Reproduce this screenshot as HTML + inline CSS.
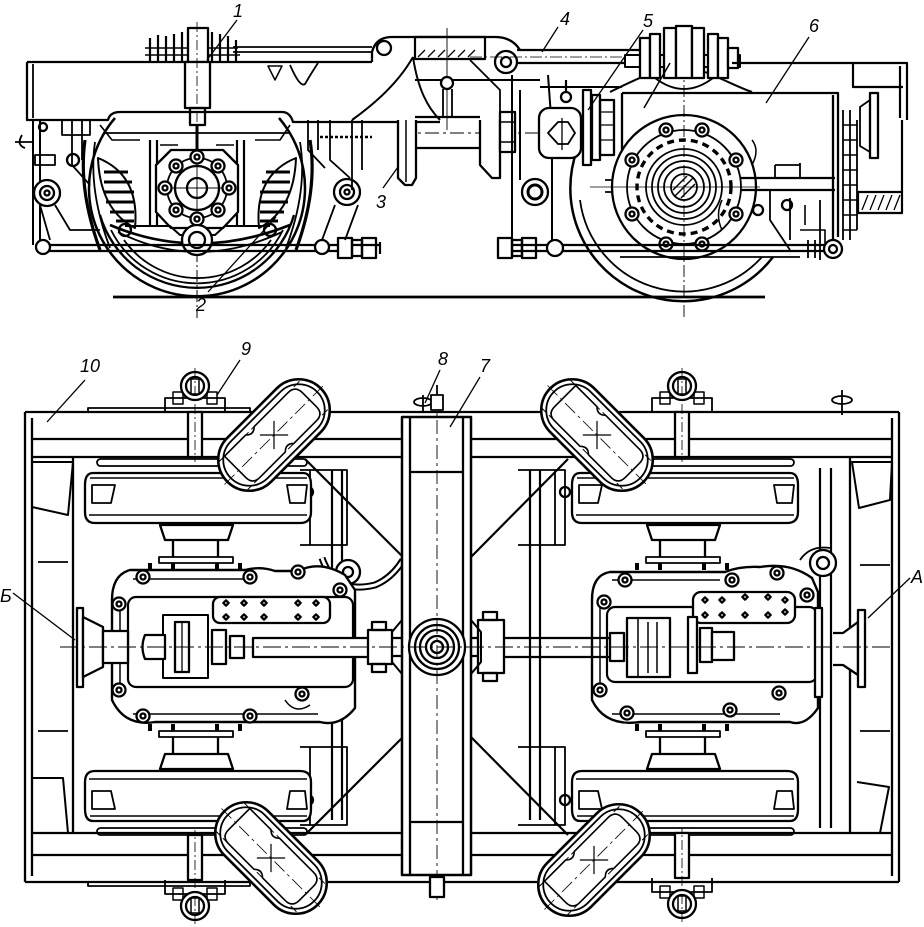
<!DOCTYPE html>
<html><head><meta charset="utf-8"><style>
html,body{margin:0;padding:0;background:#fff;width:924px;height:927px;overflow:hidden}
svg{display:block}
text{font-family:"Liberation Sans",sans-serif;font-style:italic;font-size:18px;fill:#000;stroke:none}
</style></head><body>
<svg width="924" height="927" viewBox="0 0 924 927" xmlns="http://www.w3.org/2000/svg">
<defs>
<g id="bolt"><circle r="6.5" fill="#fff"/><circle r="2.5"/></g>
<g id="dotx"><path d="M-4 0H4M0-4V4" stroke-width="1.2"/><circle r="2" fill="#fff"/></g>
<g id="oval">
<rect x="-66" y="-31" width="132" height="62" rx="31" fill="#fff" stroke-width="2.6"/>
<rect x="-61" y="-26" width="122" height="52" rx="26" stroke-width="1.8"/>
<path d="M-50 -20 H-20 Q-14 -14 -8 -20 H40 Q50 -20 50 -10 V10 Q50 20 40 20 H8 Q2 14 -4 20 H-40 Q-50 20 -50 10 Z" stroke-width="1.6"/>
<path d="M-60 -20 H60 M-60 20 H60" stroke-width="1" stroke-dasharray="8 4"/>
<path d="M-10 -10 L10 10 M-10 10 L10 -10" stroke-width="1.2"/>
<path d="M-70 0 H70" stroke-width="0.8" stroke-dasharray="14 4 3 4"/>
</g>
<g id="wheelP">
<rect x="-98" y="459" width="210" height="7" rx="3.5" stroke-width="1.8"/>
<path d="M-102 473 H108 Q116 473 116 485 V512 Q116 523 105 523 H-100 Q-110 523 -110 512 V485 Q-110 473 -102 473 Z" fill="#fff"/>
<path d="M-105 478 H112 M-106 515 H112" stroke-width="1.5"/>
<path d="M-103 485 H-80 L-84 503 H-103 Z M92 485 H112 L110 503 H95 Z" stroke-width="1.8"/>
<path d="M-35 525 H38 L33 540 H-30 Z" fill="#fff"/>
<path d="M-22 540 V557 M23 540 V557"/>
<path d="M-36 557 H38 V563 H-36 Z" stroke-width="1.8"/>
<path d="M-45 563 V570 M-22 563 V570 M22 563 V570 M45 563 V570" stroke-width="4"/>
</g>
<g id="pinTop">
<path d="M-30 412 V398 H30 V412" stroke-width="1.8"/>
<rect x="-22" y="392" width="10" height="12" stroke-width="1.5"/>
<rect x="12" y="392" width="10" height="12" stroke-width="1.5"/>
<circle cy="386" r="14" fill="#fff"/>
<circle cy="386" r="9"/>
<rect x="-4" y="379" width="8" height="15" stroke-width="1.5"/>
<rect x="-7" y="412" width="14" height="45" fill="#fff"/>
<path d="M0 368 V462" stroke-width="0.8" stroke-dasharray="10 3 2 3"/>
</g>
</defs>

<g fill="none" stroke="#000" stroke-width="2.3" stroke-linejoin="round" stroke-linecap="butt">

<!-- ================= SIDE VIEW ================= -->
<line x1="113" y1="297" x2="765" y2="297" stroke-width="2.8"/>

<!-- left wheel -->
<path d="M115 118 A108 108 0 1 0 279 118" stroke-width="2.5"/>
<path d="M100 215 A101 101 0 0 0 294 215"/>
<path d="M111 230 A96 96 0 0 0 283 230" stroke-width="1.8"/>
<path d="M124 240 A90 90 0 0 0 271 240" stroke-width="1.8"/>
<line x1="197" y1="150" x2="197" y2="318" stroke-width="1" stroke-dasharray="12 3 2 3"/>

<!-- right wheel -->
<path d="M577 150 A113 113 0 0 0 773 257" stroke-width="2.5"/>
<path d="M580 200 A105 105 0 0 0 762 257" stroke-width="1.8"/>

<!-- left frame -->
<path d="M27 62 H372 L440 120 H293 Q290 112 282 112 H120 Q110 112 108 120 H27 Z" fill="#fff" stroke="none"/>
<path d="M27 62 H372"/>
<path d="M27 62 V120 H108 Q110 112 120 112 H282 Q290 112 293 122 H440"/>
<path d="M33 64 V118" stroke-width="1.8"/>
<path d="M103 133 H290" stroke-width="1.8"/>
<path d="M233 47 H372 M233 52 H372" stroke-width="1.8"/>
<path d="M290 65 Q300 88 305 84 Q312 72 318 63" stroke-width="1.8"/>
<path d="M268 66 H282 L275 80 Z" stroke-width="1.5"/>
<!-- left suspension 1 -->
<path d="M150 62 V38 M158 62 V35 M166 62 V36 M174 62 V34 M182 62 V32 M212 62 V32 M220 62 V34 M228 62 V36 M236 62 V40" stroke-width="2.2"/>
<path d="M145 55 H240 M145 48 H238" stroke-width="1.5"/>
<rect x="188" y="28" width="20" height="34" fill="#fff"/>
<rect x="185" y="62" width="25" height="46" fill="#fff"/>
<rect x="190" y="108" width="15" height="17"/>
<path d="M197 125 V150" stroke-width="3"/>
<path d="M197 22 V135" stroke-width="0.8" stroke-dasharray="10 3 2 3"/>

<!-- left bogie pedestals & springs -->
<path d="M85 140 Q78 190 100 250" stroke-width="3.2"/>
<path d="M95 142 Q88 190 110 248" stroke-width="1.8"/>
<path d="M310 140 Q318 190 296 250" stroke-width="3.2"/>
<path d="M300 142 Q308 190 286 248" stroke-width="1.8"/>
<path d="M98 158 Q140 175 135 228 Q100 210 98 158 Z" fill="#fff" stroke-width="2"/>
<path d="M104 172 H128 M104 182 H132 M104 192 H134 M106 202 H134 M110 212 H134 M116 221 H134" stroke-width="3"/>
<path d="M296 158 Q254 175 259 228 Q294 210 296 158 Z" fill="#fff" stroke-width="2"/>
<path d="M266 172 H290 M262 182 H290 M260 192 H290 M260 202 H288 M260 212 H284 M260 221 H278" stroke-width="3"/>
<path d="M150 140 V225 M157 140 V225 M237 140 V225 M244 140 V225" stroke-width="2.2"/>
<path d="M160 145 H178 M216 145 H234" stroke-width="1.5"/>
<path d="M100 125 L112 140 H140 M290 125 L280 140 H255" stroke-width="1.6"/>
<!-- axle box -->
<path d="M171 150 H223 L238 165 V212 L223 228 H171 L156 212 V165 Z" fill="#fff"/>
<circle cx="197" cy="188" r="30" stroke-width="1.8"/>
<circle cx="197" cy="188" r="22"/>
<circle cx="197" cy="188" r="10"/>
<path d="M165 188 H229 M197 156 V220" stroke-width="0.9"/>
<use href="#bolt" x="176" y="166"/><use href="#bolt" x="218" y="166"/>
<use href="#bolt" x="176" y="210"/><use href="#bolt" x="218" y="210"/>
<use href="#bolt" x="165" y="188"/><use href="#bolt" x="229" y="188"/>
<use href="#bolt" x="197" y="157"/><use href="#bolt" x="197" y="219"/>
<!-- lower cradle -->
<path d="M110 225 Q197 262 290 225" stroke-width="2.6"/>
<path d="M118 232 Q197 272 282 232" stroke-width="1.8"/>
<path d="M125 226 H170 L180 235 H215 L225 226 H270" stroke-width="2"/>
<circle cx="197" cy="240" r="15" fill="#fff"/>
<circle cx="197" cy="240" r="8"/>
<circle cx="125" cy="230" r="6"/><circle cx="270" cy="230" r="6"/>

<!-- left end gear -->
<path d="M33 120 V245 M40 120 V245" stroke-width="2"/>
<path d="M22 135 Q16 145 25 148 M15 142 H33" stroke-width="1.8"/>
<path d="M62 120 V135 H90 V120" stroke-width="1.8"/>
<circle cx="43" cy="127" r="4"/>
<path d="M72 120 V165 L90 185 M82 120 V160" stroke-width="1.8"/>
<rect x="35" y="155" width="20" height="10" stroke-width="1.8"/>
<circle cx="73" cy="160" r="6"/>
<circle cx="47" cy="193" r="13" fill="#fff"/><circle cx="47" cy="193" r="7"/><circle cx="47" cy="193" r="2.5"/>
<path d="M55 205 L70 230 H100 M40 205 L50 240" stroke-width="1.8"/>
<path d="M37 245 H380 M37 251 H340" stroke-width="2.2"/>
<circle cx="43" cy="247" r="7" fill="#fff"/>
<circle cx="322" cy="247" r="7" fill="#fff"/>
<rect x="338" y="238" width="14" height="20" fill="#fff"/>
<rect x="352" y="240" width="10" height="16"/>
<rect x="362" y="238" width="14" height="20"/>
<path d="M380 242 V254" stroke-width="2.2"/>
<!-- right part of left bogie frame -->
<path d="M308 120 V150 L325 168 M318 120 V150" stroke-width="1.8"/>
<path d="M330 120 V160 L350 178" stroke-width="1.8"/>
<circle cx="347" cy="192" r="13" fill="#fff"/><circle cx="347" cy="192" r="7"/><circle cx="347" cy="192" r="2.5"/>
<path d="M335 205 L322 240 M358 205 L345 240" stroke-width="1.8"/>
<path d="M320 137 H372" stroke-width="2.5" stroke-dasharray="3 2"/>
<path d="M352 120 V190 M362 120 V170" stroke-width="1.8"/>

<!-- bolster (side) -->
<path d="M352 120 C380 100 400 80 413 57" stroke-width="2"/>
<path d="M413 57 C418 90 428 108 440 120" stroke-width="2"/>
<path d="M372 62 V52 Q376 37 392 37 H495 Q512 37 520 50"/>
<rect x="415" y="37" width="70" height="22" stroke-width="2.2"/>
<path d="M418 57 L425 50 M428 57 L435 50 M438 57 L445 50 M448 57 L455 50 M458 57 L465 50 M468 57 L475 50" stroke-width="1.3"/>
<path d="M447 28 V130" stroke-width="0.9"/>
<path d="M415 80 H540" stroke-width="2"/>
<circle cx="447" cy="83" r="6" fill="#fff"/>
<path d="M443 89 V118 M452 89 V118" stroke-width="1.8"/>
<path d="M470 60 L500 90 V118" stroke-width="1.8"/>
<circle cx="384" cy="48" r="7"/>
<!-- link 4 -->
<circle cx="506" cy="62" r="11" fill="#fff"/>
<circle cx="506" cy="62" r="5"/>
<path d="M517 50 H640 M517 63 H640" stroke-width="2.2"/>
<path d="M470 57 H650" stroke-width="0.8" stroke-dasharray="12 3 2 3"/>
<!-- cardan shaft & brake disc 3 -->
<path d="M415 117 H480 M415 148 H480"/>
<line x1="400" y1="133" x2="560" y2="133" stroke-width="0.9" stroke-dasharray="14 4 3 4"/>
<path d="M398 120 V178 L405 185 H412 L416 178 V120" fill="#fff"/>
<path d="M406 120 V182" stroke-width="1.5"/>
<path d="M480 120 V165 L492 178 H500 V120" fill="#fff"/>
<rect x="500" y="112" width="15" height="40" fill="#fff"/>
<path d="M500 122 H515 M500 142 H515" stroke-width="1.5"/>

<!-- right bogie lever -->
<path d="M512 75 V250 M520 90 V180 M548 75 L552 130 V250" stroke-width="2"/>
<circle cx="535" cy="192" r="13" fill="#fff"/><circle cx="535" cy="192" r="7" stroke-width="3"/>
<path d="M540 87 H622" stroke-width="2"/>
<!-- coupling 5 -->
<rect x="539" y="108" width="42" height="50" rx="10" fill="#fff"/>
<path d="M548 133 L558 122 H568 L575 133 L568 144 H558 Z" stroke-width="1.8"/>
<path d="M562 118 V150" stroke-width="1.3"/>
<rect x="583" y="90" width="8" height="75" fill="#fff"/>
<rect x="592" y="95" width="8" height="65"/>
<rect x="600" y="100" width="14" height="55"/>
<path d="M600 112 H614 M600 125 H614 M600 140 H614" stroke-width="1.3"/>
<circle cx="566" cy="97" r="5"/>
<path d="M566 92 V80" stroke-width="2.2"/>

<!-- motor 6 -->
<path d="M610 92 C630 82 645 75 660 70 M705 72 C725 80 740 88 752 92" stroke-width="2"/>
<rect x="622" y="93" width="214" height="164" fill="#fff" stroke="none"/>
<path d="M622 93 H838 V237 M833 95 V240 M622 93 V160"/>
<path d="M605 180 H625 V192 H605" stroke-width="1.8"/>
<circle cx="684" cy="187" r="72" fill="#fff"/>
<circle cx="684" cy="187" r="57" stroke-width="1.8"/>
<circle cx="684" cy="187" r="47" stroke-width="3.4" stroke-dasharray="7 5"/>
<circle cx="684" cy="187" r="38" stroke-width="1.8"/>
<circle cx="684" cy="187" r="32" stroke-width="1.8"/>
<circle cx="684" cy="187" r="26" stroke-width="1.8"/>
<circle cx="684" cy="187" r="20" stroke-width="1.8"/>
<circle cx="684" cy="187" r="13" stroke-width="1.8"/>
<path d="M675 196 L693 178 M673 190 L687 176 M681 198 L695 184" stroke-width="1.5"/>
<use href="#bolt" x="666" y="130"/><use href="#bolt" x="702" y="130"/>
<use href="#bolt" x="632" y="160"/><use href="#bolt" x="736" y="160"/>
<use href="#bolt" x="632" y="214"/><use href="#bolt" x="736" y="214"/>
<use href="#bolt" x="666" y="244"/><use href="#bolt" x="702" y="244"/>
<path d="M684 25 V318" stroke-width="0.9" stroke-dasharray="12 3 2 3"/>
<path d="M590 187 H760" stroke-width="0.8"/>
<path d="M741 178 H835 M741 190 H835" stroke-width="2.2"/>
<path d="M775 165 V178 M800 163 V178 M775 165 H800" stroke-width="1.8"/>
<circle cx="787" cy="205" r="5"/>
<path d="M770 190 V220 Q780 235 790 250 M790 198 V240 M820 200 V260" stroke-width="1.8"/>
<path d="M800 230 H825 V245 M805 205 V225" stroke-width="1.6"/>
<circle cx="758" cy="210" r="5"/>
<path d="M752 140 Q760 150 752 165 M722 200 Q715 215 722 230" stroke-width="1.5"/>
<!-- right suspension spring stack -->
<path d="M625 55 H740 V67 H625 Z" fill="#fff" stroke-width="2"/>
<rect x="640" y="38" width="10" height="40" fill="#fff"/>
<rect x="650" y="34" width="10" height="44" fill="#fff"/>
<rect x="664" y="28" width="12" height="50" fill="#fff"/>
<rect x="676" y="26" width="16" height="52" fill="#fff"/>
<rect x="692" y="28" width="12" height="50" fill="#fff"/>
<rect x="708" y="34" width="10" height="44" fill="#fff"/>
<rect x="718" y="38" width="10" height="40" fill="#fff"/>
<rect x="728" y="48" width="10" height="20" fill="#fff"/>
<path d="M655 78 Q684 100 713 78" stroke-width="1.8"/>
<path d="M670 63 L644 108" stroke-width="1.5"/>
<!-- right end -->
<path d="M732 63 H907 V120 M900 66 V118 M853 63 V87 H903" stroke-width="2.2"/>
<path d="M902 120 V213 H858 V192 H902" stroke-width="2.2"/>
<path d="M862 210 L868 195 M870 210 L876 195 M878 210 L884 195 M886 210 L892 195 M894 210 L900 195" stroke-width="1.3"/>
<rect x="870" y="93" width="8" height="65" fill="#fff"/>
<path d="M860 107 L870 100 V152 L860 146 Z" stroke-width="1.8"/>
<path d="M843 110 V240 M850 110 V240 M857 120 V230" stroke-width="1.8"/>
<path d="M843 125 H857 M843 140 H857 M843 155 H857 M843 170 H857 M843 185 H857 M843 200 H857 M843 215 H857 M843 230 H857" stroke-width="1.5"/>
<!-- right brake rod -->
<path d="M499 245 H840 M499 251 H840" stroke-width="2.2"/>
<rect x="498" y="238" width="14" height="20" fill="#fff"/>
<rect x="512" y="240" width="10" height="16"/>
<rect x="522" y="238" width="14" height="20"/>
<circle cx="555" cy="248" r="8" fill="#fff"/>
<circle cx="833" cy="249" r="9" fill="#fff"/><circle cx="833" cy="249" r="4"/>
<path d="M808 240 V258 M815 240 V258" stroke-width="1.8"/>
<path d="M620 257 H800" stroke-width="1.8"/>

<!-- side-view labels -->
<text x="233" y="17">1</text>
<path d="M237 20 L207 60" stroke-width="1.3"/>
<text x="196" y="311">2</text>
<path d="M208 292 L276 217" stroke-width="1.3"/>
<text x="376" y="208">3</text>
<path d="M383 188 L398 167" stroke-width="1.3"/>
<text x="560" y="25">4</text>
<path d="M558 27 L542 52" stroke-width="1.3"/>
<text x="643" y="27">5</text>
<path d="M643 30 L588 110" stroke-width="1.3"/>
<text x="809" y="32">6</text>
<path d="M809 37 L766 103" stroke-width="1.3"/>

<!-- ================= PLAN VIEW ================= -->
<path d="M25 412 H899 M32 439 H892 M32 457 H892 M25 882 H899 M32 855 H892 M32 833 H892"/>
<path d="M88 412 V408 H250 V412" stroke-width="1.8"/>
<path d="M88 882 V886 H250 V882" stroke-width="1.8"/>
<path d="M25 412 V882 M32 418 V876 M73 457 V833 M899 412 V882 M892 418 V876 M850 457 V833"/>
<path d="M32 462 H73 L68 515 L32 507" stroke-width="2"/>
<path d="M33 778 H63 L68 833" stroke-width="2"/>
<path d="M852 462 H892 L890 500 L859 508 Z" stroke-width="2"/>
<path d="M857 782 L889 787 L880 833 H849" stroke-width="2"/>
<path d="M38 562 H68 M38 731 H68 M860 565 H890 M860 731 H890" stroke-width="1.8"/>
<path d="M332 470 V820 M342 470 V820 M530 470 V820 M540 470 V820 M820 468 V828 M831 468 V828" stroke-width="2.2"/>
<path d="M305 459 L403 557 M568 459 L471 557 M305 835 L403 737 M568 835 L471 737" stroke-width="2.2"/>
<path d="M300 470 H347 V545 H300 M310 470 V545" stroke-width="1.8"/>
<path d="M518 470 H565 V545 H518 M555 470 V545" stroke-width="1.8"/>
<path d="M300 747 H347 V825 H300 M310 747 V825" stroke-width="1.8"/>
<path d="M518 747 H565 V825 H518 M555 747 V825" stroke-width="1.8"/>
<circle cx="308" cy="492" r="5"/><circle cx="565" cy="492" r="5"/>
<circle cx="308" cy="800" r="5"/><circle cx="565" cy="800" r="5"/>

<use href="#wheelP" x="195"/>
<use href="#wheelP" transform="matrix(1 0 0 -1 195 1294)"/>
<use href="#wheelP" x="682"/>
<use href="#wheelP" transform="matrix(1 0 0 -1 682 1294)"/>

<path d="M322 558 Q335 595 375 585 Q392 578 403 560" stroke-width="7"/>
<path d="M322 558 Q335 595 375 585 Q392 578 403 560" stroke="#fff" stroke-width="3"/>
<circle cx="348" cy="572" r="12" fill="#fff"/><circle cx="348" cy="572" r="5"/>

<!-- left housing -->
<path d="M130 570 H245 Q260 566 275 571 H298 Q320 560 345 575 L355 590 V708 Q340 727 320 722 H155 Q125 727 112 700 V600 Q112 575 130 570 Z" fill="#fff" stroke-width="2.4"/>
<path d="M133 579 H243 M120 605 V695 M133 714 H318" stroke-width="1.5"/>
<rect x="128" y="597" width="225" height="90" rx="8" stroke-width="2.2"/>
<rect x="213" y="597" width="117" height="26" rx="7" fill="#fff"/>
<use href="#dotx" x="226" y="603"/><use href="#dotx" x="244" y="603"/><use href="#dotx" x="264" y="603"/><use href="#dotx" x="298" y="603"/><use href="#dotx" x="316" y="603"/>
<use href="#dotx" x="226" y="617"/><use href="#dotx" x="244" y="617"/><use href="#dotx" x="264" y="617"/><use href="#dotx" x="298" y="617"/><use href="#dotx" x="316" y="617"/>
<use href="#bolt" x="143" y="577"/><use href="#bolt" x="250" y="577"/><use href="#bolt" x="119" y="604"/>
<use href="#bolt" x="119" y="690"/><use href="#bolt" x="143" y="716"/><use href="#bolt" x="250" y="716"/>
<use href="#bolt" x="298" y="572"/><use href="#bolt" x="340" y="590"/><use href="#bolt" x="302" y="694"/>
<path d="M285 700 Q295 715 310 705" stroke-width="1.5"/>
<rect x="77" y="608" width="6" height="79" fill="#fff"/>
<path d="M83 617 L103 627 V667 L83 677 Z" fill="#fff"/>
<rect x="103" y="631" width="25" height="32" fill="#fff"/>
<rect x="163" y="615" width="45" height="63" stroke-width="2"/>
<rect x="175" y="622" width="14" height="50" fill="#fff"/>
<path d="M182 622 V672" stroke-width="1.3"/>
<path d="M145 635 Q140 647 145 659 H165 V635 Z" fill="#fff"/>
<rect x="212" y="630" width="14" height="34"/>
<rect x="230" y="636" width="14" height="22"/>
<rect x="253" y="638" width="117" height="19" fill="#fff"/>
<rect x="368" y="630" width="24" height="34" fill="#fff"/>
<rect x="372" y="622" width="14" height="8"/><rect x="372" y="664" width="14" height="8"/>
<path d="M392 638 H402 M392 656 H402" stroke-width="2.2"/>

<!-- right housing -->
<path d="M610 572 H725 Q740 566 760 567 Q790 562 812 578 L818 592 V708 Q805 727 790 722 H640 Q605 727 592 700 V600 Q592 575 610 572 Z" fill="#fff" stroke-width="2.4"/>
<path d="M612 580 H720 M600 605 V695 M612 714 H780" stroke-width="1.5"/>
<rect x="607" y="607" width="210" height="75" rx="8" stroke-width="2.2"/>
<rect x="693" y="592" width="102" height="31" rx="8" fill="#fff"/>
<use href="#dotx" x="705" y="600"/><use href="#dotx" x="722" y="600"/><use href="#dotx" x="745" y="597"/><use href="#dotx" x="768" y="597"/><use href="#dotx" x="785" y="600"/>
<use href="#dotx" x="705" y="615"/><use href="#dotx" x="722" y="615"/><use href="#dotx" x="745" y="615"/><use href="#dotx" x="768" y="615"/><use href="#dotx" x="785" y="612"/>
<use href="#bolt" x="625" y="580"/><use href="#bolt" x="732" y="580"/><use href="#bolt" x="604" y="602"/>
<use href="#bolt" x="600" y="690"/><use href="#bolt" x="627" y="713"/><use href="#bolt" x="730" y="710"/>
<use href="#bolt" x="777" y="573"/><use href="#bolt" x="807" y="595"/><use href="#bolt" x="779" y="693"/>
<circle cx="823" cy="563" r="13" fill="#fff"/><circle cx="823" cy="563" r="6"/>
<path d="M800 560 Q810 545 830 548" stroke-width="1.8"/>
<rect x="478" y="620" width="26" height="53" fill="#fff"/>
<rect x="483" y="612" width="14" height="8"/><rect x="483" y="673" width="14" height="8"/>
<path d="M471 638 H478 M471 656 H478" stroke-width="2.2"/>
<path d="M504 638 H610 M504 657 H610" stroke-width="2.2"/>
<rect x="610" y="633" width="14" height="28" fill="#fff"/>
<rect x="627" y="618" width="43" height="59" fill="#fff"/>
<path d="M638 618 V677 M648 622 V673 M657 622 V673" stroke-width="1.5"/>
<rect x="688" y="617" width="9" height="56" fill="#fff"/>
<rect x="700" y="628" width="12" height="34"/>
<rect x="712" y="632" width="22" height="28" fill="#fff"/>
<rect x="815" y="608" width="7" height="89" fill="#fff"/>
<path d="M833 633 H843 L858 622 V675 L843 665 H833" fill="#fff"/>
<rect x="858" y="610" width="7" height="77" fill="#fff"/>

<!-- bolster -->
<rect x="402" y="417" width="69" height="458" fill="#fff" stroke-width="2.5"/>
<path d="M410 417 V875 M463 417 V875 M410 472 H463 M410 822 H463"/>
<path d="M402 620 L392 632 V662 L402 674 M471 620 L481 632 V662 L471 674" stroke-width="2"/>
<circle cx="437" cy="647" r="28" fill="#fff"/>
<circle cx="437" cy="647" r="22"/>
<circle cx="437" cy="647" r="17"/>
<circle cx="437" cy="647" r="11"/>
<circle cx="437" cy="647" r="6"/>
<path d="M437 395 V900" stroke-width="0.9" stroke-dasharray="14 4 3 4"/>
<path d="M60 647 H890" stroke-width="0.9" stroke-dasharray="18 4 3 4"/>
<ellipse cx="423" cy="402" rx="9" ry="4" fill="#fff" stroke-width="1.8"/>
<rect x="431" y="395" width="12" height="15" fill="#fff" stroke-width="1.8"/>
<path d="M423 395 V412 M437 385 V395" stroke-width="1.8"/>
<rect x="430" y="877" width="14" height="20" fill="#fff"/>
<ellipse cx="842" cy="400" rx="10" ry="4" fill="#fff" stroke-width="1.8"/>
<path d="M842 390 V415" stroke-width="1.8"/>

<use href="#pinTop" x="195"/>
<use href="#pinTop" x="682"/>
<use href="#pinTop" transform="matrix(1 0 0 -1 195 1292)"/>
<use href="#pinTop" transform="matrix(1 0 0 -1 682 1290)"/>

<use href="#oval" transform="translate(274 435) rotate(-45)"/>
<use href="#oval" transform="translate(597 435) rotate(45)"/>
<use href="#oval" transform="translate(271 858) rotate(45)"/>
<use href="#oval" transform="translate(594 860) rotate(-45)"/>

<text x="80" y="372">10</text>
<path d="M85 380 L47 422" stroke-width="1.3"/>
<text x="241" y="355">9</text>
<path d="M240 360 L217 395" stroke-width="1.3"/>
<text x="438" y="365">8</text>
<path d="M440 370 L425 403" stroke-width="1.3"/>
<text x="480" y="372">7</text>
<path d="M480 377 L450 427" stroke-width="1.3"/>
<text x="0" y="602">Б</text>
<path d="M13 593 L75 640" stroke-width="1.3"/>
<text x="911" y="583">A</text>
<path d="M910 578 L868 618" stroke-width="1.3"/>

</g>
</svg>
</body></html>
